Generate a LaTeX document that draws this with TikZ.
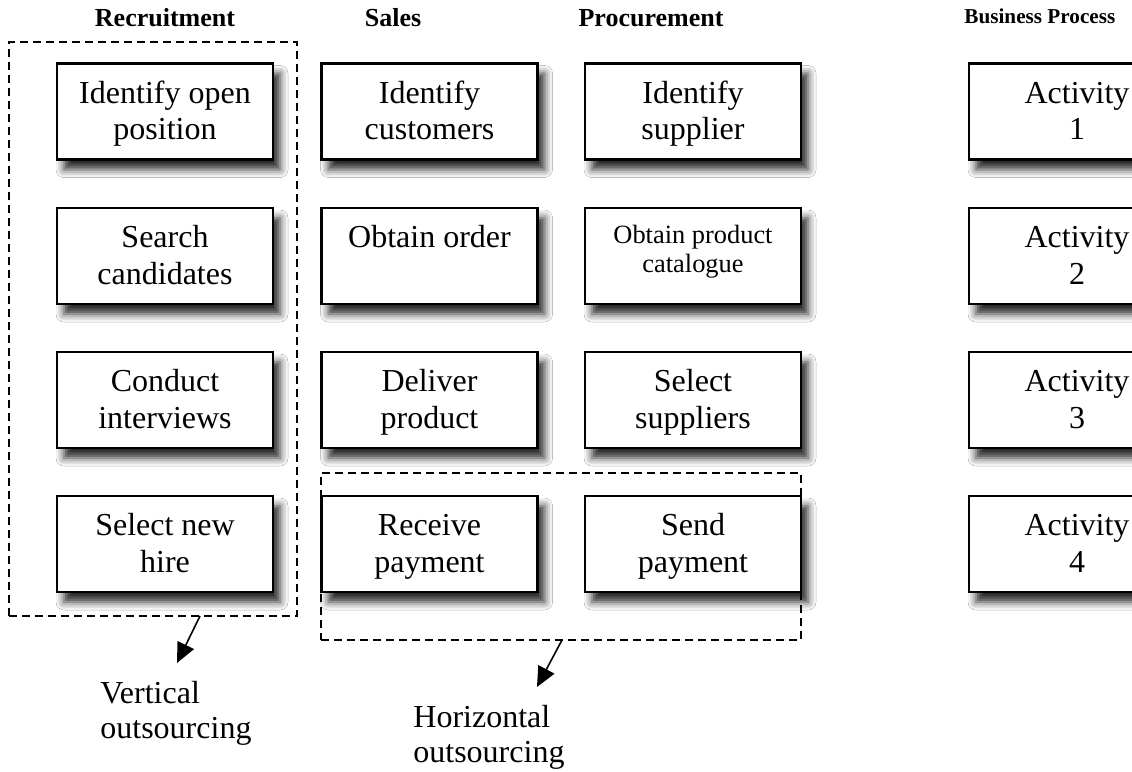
\documentclass[tikz,border=0pt]{standalone}
\usepackage{fontspec}
\setmainfont{Liberation Serif}
\usetikzlibrary{shadows.blur,arrows.meta,fit}
\newcommand\bigstrutline{\rule[-4.2pt]{0pt}{18.2pt}}
\newcommand\twolines[2]{\bigstrutline #1\\\bigstrutline #2}
\begin{document}
\begin{tikzpicture}[x=0.5pt,y=-0.5pt,
  actbox/.style={draw, line width=1.3pt, fill=white, minimum width=108pt, minimum height=48pt,
    inner sep=0pt, align=center, font=\fontsize{16}{18.3}\selectfont,
    blur shadow={shadow xshift=3.5pt, shadow yshift=-5pt, shadow blur radius=4pt, shadow opacity=85}},
  header/.style={font=\bfseries\fontsize{13}{15}\selectfont, anchor=base, inner sep=0pt},
  groupbox/.style={draw, dash pattern=on 4pt off 2.5pt, line width=1pt, inner sep=0pt},
  pointer/.style={line width=0.8pt, -{Triangle[length=10pt,width=9pt]}},
  note/.style={align=left, anchor=north west, inner sep=0pt, font=\fontsize{16}{17.3}\selectfont}]
\clip (0,0) rectangle (1132,772);
\fill[white] (0,0) rectangle (1132,772);

% headers
\node[header] (hrec) at (165,26) {Recruitment};
\node[header] (hsal) at (393,26) {Sales};
\node[header] (hpro) at (651,26) {Procurement};
\node[header, font=\bfseries\fontsize{10.6}{12}\selectfont, anchor=base west] (hbp) at (964,23) {Business Process};

% group outlines
\coordinate (v1) at (9,42);
\coordinate (v2) at (297,616);
\node[groupbox, fit=(v1)(v2)] (vgroup) {};
\coordinate (h1) at (321,473);
\coordinate (h2) at (801,640);
\node[groupbox, fit=(h1)(h2)] (hgroup) {};

% Recruitment
\node[actbox] (r1) at (165,111.5) {\twolines{Identify open}{position}};
\node[actbox] (r2) at (165,256) {\twolines{Search}{candidates}};
\node[actbox] (r3) at (165,400) {\twolines{Conduct}{interviews}};
\node[actbox] (r4) at (165,544) {\twolines{Select new}{hire}};
% Sales
\node[actbox] (s1) at (429.5,111.5) {\twolines{Identify}{customers}};
\node[actbox] (s2) at (429.5,256) {\twolines{Obtain order}{}};
\node[actbox] (s3) at (429.5,400) {\twolines{Deliver}{product}};
\node[actbox] (s4) at (429.5,544) {\twolines{Receive}{payment}};
% Procurement
\node[actbox] (p1) at (693,111.5) {\twolines{Identify}{supplier}};
\node[actbox, font=\fontsize{13.2}{14.5}\selectfont] (p2) at (693,256) {Obtain product\\catalogue\rule[-7.5pt]{0pt}{1pt}};
\node[actbox] (p3) at (693,400) {\twolines{Select}{suppliers}};
\node[actbox] (p4) at (693,544) {\twolines{Send}{payment}};
% Business process
\node[actbox] (b1) at (1077,111.5) {\twolines{Activity}{1}};
\node[actbox] (b2) at (1077,256) {\twolines{Activity}{2}};
\node[actbox] (b3) at (1077,400) {\twolines{Activity}{3}};
\node[actbox] (b4) at (1077,544) {\twolines{Activity}{4}};

% pointers and notes
\coordinate (vs) at (200,616);
\coordinate (vt) at (177,663);
\draw[pointer] (vs) -- (vt);
\coordinate (hs) at (562,640);
\coordinate (ht) at (537,687);
\draw[pointer] (hs) -- (ht);
\node[note] (vnote) at (100,681) {Vertical\\outsourcing};
\node[note] (hnote) at (413,705) {Horizontal\\outsourcing};
\end{tikzpicture}
\end{document}
